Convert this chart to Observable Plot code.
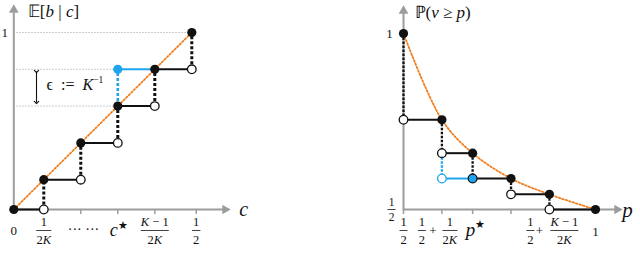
<!DOCTYPE html>
<html><head><meta charset="utf-8">
<script src="https://cdn.jsdelivr.net/npm/d3@7"></script>
<script src="https://cdn.jsdelivr.net/npm/@observablehq/plot@0.6"></script>
<style>
html,body{margin:0;padding:0;background:#fff;width:640px;height:266px;overflow:hidden}
#row{display:flex;width:640px;height:266px}
#row svg{overflow:visible;display:block}
#row svg, #row svg text, #row svg tspan{font-family:"Liberation Serif","Times New Roman",serif !important}
</style></head><body><div id="row"></div>
<script>
// ===== Left panel: E[b | c] (schematic units) =====
const cVals = [0, 0.81, 1.81, 2.81, 3.81, 4.81];   // c at each step
const bVals = [0, 0.81, 1.81, 2.81, 3.81, 4.81];   // E[b|c] at filled points
const cStarIdx = 3;                                 // index of c*
const cTickVals = [0.81, 1.81, 2.81, 3.81, 4.93];   // tick marks on the c axis
const cHalf = 4.93;                                 // position of the 1/2 label

// ===== Right panel: P(v >= p) =====
const pVals = [0.5, 0.6, 0.68, 0.78, 0.88, 1];      // p at each step
const qVals = [1, 0.755, 0.66, 0.588, 0.543, 0.5];  // P(v>=p) at filled points
const pStarIdx = 2;                                 // index of p*
const pTickVals = [0.5, 0.6, 0.68, 0.78, 0.88];

const FONT = '"Liberation Serif","Times New Roman",serif';
const INK = "#111", GRAY = "#9c9c9c", BLUE = "#1ea5ee", ORANGE = "#f07f1f";

const bar = {draw(ctx, size){ const r = Math.sqrt(size/Math.PI); ctx.moveTo(-r,0); ctx.lineTo(r,0); }};
function frac(x, y, num, den, {dx=0, dy=21, fs=12.5, gap=9, hw=5}={}) {
  return [
    Plot.text([num], {x:[x], y:[y], text:d=>d, dx, dy:dy-gap, fontSize:fs}),
    Plot.text([den], {x:[x], y:[y], text:d=>d, dx, dy:dy+gap, fontSize:fs}),
    Plot.dot([0], {x:[x], y:[y], dx, dy, r:hw, symbol:bar, fill:"none", stroke:INK, strokeWidth:0.8})
  ];
}
function seg(x1,y1,x2,y2,o){ return Plot.link([0], {x1:[x1], y1:[y1], x2:[x2], y2:[y2], ...o}); }
function lab(x,y,t,o){ return Plot.text([t], {x:[x], y:[y], text:d=>d, ...o}); }

// ---------- Left ----------
const lxS = d3.scaleLinear([0,4.81],[13.3,191.3]), lyS = d3.scaleLinear([0,4.81],[209,32]);
const LX = px => lxS.invert(px), LY = py => lyS.invert(py);

const lFilled = cVals.map((c,i)=>({c, b:bVals[i]}));
const lOpen = d3.range(1,6).map(i=>({c:cVals[i], b:bVals[i-1]}));
const lFlat = d3.range(5).map(i=>({c1:cVals[i], c2:cVals[i+1], b:bVals[i]}));
const lJump = d3.range(1,6).map(i=>({c:cVals[i], b1:bVals[i-1], b2:bVals[i]}));
const k = cStarIdx;
const lGrid = [{c:cVals[5], b:bVals[5]}, {c:cVals[k], b:bVals[k+1]}, {c:cVals[k], b:bVals[k]}];

const left = Plot.plot({
  width:320, height:266, margin:0,
  x:{domain:[0,4.81], range:[13.3,191.3], axis:null},
  y:{domain:[0,4.81], range:[209,32], axis:null},
  style:{fontFamily:FONT, color:INK, background:"transparent", overflow:"visible"},
  marks:[
    Plot.link(lGrid, {x1:()=>LX(16), x2:"c", y1:"b", y2:"b", stroke:GRAY, strokeWidth:1, strokeDasharray:"1,2"}),
    Plot.line(lFilled, {x:"c", y:"b", stroke:ORANGE, strokeWidth:1.8, strokeDasharray:"1.6,2"}),
    seg(0, LY(210), 0, LY(12), {stroke:GRAY, strokeWidth:2}),
    seg(0, 0, LX(224), 0, {stroke:GRAY, strokeWidth:2}),
    Plot.dot([0], {x:[0], y:[LY(9.4)], symbol:"triangle", r:3.6, fill:GRAY}),
    Plot.dot([0], {x:[LX(224.6)], y:[0], symbol:"triangle", r:3.6, fill:GRAY, rotate:90}),
    Plot.ruleX(cTickVals, {x:d=>d, y1:0, y2:LY(214), stroke:GRAY, strokeWidth:1.5}),
    Plot.link(lJump, {x1:"c", x2:"c", y1:"b1", y2:"b2", stroke:INK, strokeWidth:3, strokeDasharray:"3,2"}),
    seg(cVals[k], bVals[k], cVals[k], bVals[k+1], {stroke:BLUE, strokeWidth:2.6, strokeDasharray:"3,2"}),
    Plot.link(lFlat, {x1:"c1", x2:"c2", y1:"b", y2:"b", stroke:INK, strokeWidth:2}),
    seg(cVals[k], bVals[k+1], cVals[k+1], bVals[k+1], {stroke:BLUE, strokeWidth:2}),
    Plot.dot(lOpen, {x:"c", y:"b", r:4.3, fill:"white", stroke:INK, strokeWidth:1.3}),
    Plot.dot(lFilled, {x:"c", y:"b", r:4.6, fill:INK}),
    Plot.dot([0], {x:[cVals[k]], y:[bVals[k+1]], r:4.6, fill:BLUE}),
    // epsilon annotation
    seg(LX(36), LY(71), LX(36), LY(102), {stroke:INK, strokeWidth:1.1, markerStart:"arrow", markerEnd:"arrow"}),
    lab(LX(46), LY(84), "ϵ  :=  {K}^{−1}", {textAnchor:"start", fontSize:16}),
    // titles
    lab(0, LY(11), "𝔼[{b} | {c}]", {textAnchor:"start", dx:14, fontSize:17}),
    lab(4.81, 0, "c", {dx:52, dy:0, fontSize:20, fontStyle:"italic"}),
    lab(0, bVals[5], "1", {dx:-9, fontSize:13}),
    // tick labels
    lab(0, 0, "0", {dy:21, fontSize:13}),
    ...frac(cVals[1], 0, "1", "2{K}", {hw:7.5}),
    lab(LX(83), 0, "··· ···", {dy:20, fontSize:14}),
    lab(cVals[k], 0, "{c}^{★}", {dx:1, dy:21, fontSize:18}),
    ...frac(cVals[k+1], 0, "{K} − 1", "2{K}", {hw:14}),
    ...frac(cHalf, 0, "1", "2", {hw:4.2})
  ]
});

// ---------- Right ----------
const rxS = d3.scaleLinear([0.5,1],[83,275]), ryS = d3.scaleLinear([0.5,1],[209,33]);
const RX = px => rxS.invert(px), RY = py => ryS.invert(py);
const j = pStarIdx;
const rFilled = pVals.map((p,i)=>({p, q:qVals[i]}));
const rOpen = [0,1,3,4].map(i=>({p:pVals[i], q:qVals[i+1]}));
const rFlat = d3.range(1,6).map(i=>({p1:pVals[i-1], p2:pVals[i], q:qVals[i]}));
const rJump = d3.range(5).map(i=>({p:pVals[i], q1:qVals[i], q2:qVals[i+1]}));

const right = Plot.plot({
  width:320, height:266, margin:0,
  x:{domain:[0.5,1], range:[83,275], axis:null},
  y:{domain:[0.5,1], range:[209,33], axis:null},
  style:{fontFamily:FONT, color:INK, background:"transparent", overflow:"visible"},
  marks:[
    Plot.line(rFilled, {x:"p", y:"q", curve:"catmull-rom", stroke:ORANGE, strokeWidth:1.8, strokeDasharray:"1.6,2"}),
    seg(0.5, RY(210), 0.5, RY(12), {stroke:GRAY, strokeWidth:2}),
    seg(0.5, 0.5, RX(296), 0.5, {stroke:GRAY, strokeWidth:2}),
    Plot.dot([0], {x:[0.5], y:[RY(10.4)], symbol:"triangle", r:3.6, fill:GRAY}),
    Plot.dot([0], {x:[RX(296.6)], y:[0.5], symbol:"triangle", r:3.6, fill:GRAY, rotate:90}),
    Plot.ruleX(pTickVals, {x:d=>d, y1:0.5, y2:RY(214), stroke:GRAY, strokeWidth:1.5}),
    Plot.link(rJump, {x1:"p", x2:"p", y1:"q1", y2:"q2", stroke:INK, strokeWidth:2.3, strokeDasharray:"2.5,1.5"}),
    seg(pVals[j-1], qVals[j], pVals[j-1], qVals[j+1], {stroke:BLUE, strokeWidth:2.3, strokeDasharray:"2.5,1.5"}),
    Plot.link(rFlat, {x1:"p1", x2:"p2", y1:"q", y2:"q", stroke:INK, strokeWidth:2}),
    seg(pVals[j-1], qVals[j+1], pVals[j], qVals[j+1], {stroke:BLUE, strokeWidth:2}),
    Plot.dot(rOpen, {x:"p", y:"q", r:4.3, fill:"white", stroke:INK, strokeWidth:1.3}),
    Plot.dot([0], {x:[pVals[j-1]], y:[qVals[j+1]], r:4.3, fill:"white", stroke:BLUE, strokeWidth:1.3}),
    Plot.dot(rFilled, {x:"p", y:"q", r:4.6, fill:INK}),
    Plot.dot([0], {x:[pVals[j]], y:[qVals[j+1]], r:4.4, fill:BLUE, stroke:INK, strokeWidth:1.2}),
    // titles
    lab(0.5, RY(12), "ℙ({v} ≥ {p})", {textAnchor:"start", dx:11, fontSize:17}),
    lab(1, 0.5, "p", {dx:32, dy:1, fontSize:21, fontStyle:"italic"}),
    lab(0.5, 1, "1", {dx:-14, fontSize:13}),
    ...frac(0.5, 0.5, "1", "2", {dx:-12, dy:0, gap:7.5, fs:11.5, hw:4}),
    // tick labels
    ...frac(0.5, 0.5, "1", "2", {hw:4}),
    ...frac(pVals[1], 0.5, "1", "2", {dx:-20, hw:4}),
    lab(pVals[1], 0.5, "+", {dx:-9, dy:21, fontSize:13}),
    ...frac(pVals[1], 0.5, "1", "2{K}", {dx:8, hw:7.5}),
    lab(pVals[j], 0.5, "{p}^{★}", {dx:3, dy:20, fontSize:19}),
    lab(RX(498), 0.5, "···", {dy:20, fontSize:14}),
    ...frac(pVals[4], 0.5, "1", "2", {dx:-19, hw:4}),
    lab(pVals[4], 0.5, "+", {dx:-10, dy:21, fontSize:13}),
    ...frac(pVals[4], 0.5, "{K} − 1", "2{K}", {dx:15, hw:14}),
    lab(1, 0.5, "1", {dy:22, fontSize:13})
  ]
});

const row = document.getElementById("row");
row.appendChild(left); row.appendChild(right);

// rich text: {x} italic, ^{x} superscript
function richify(root){
  root.querySelectorAll("text").forEach(t=>{
    const s = t.textContent;
    if (!s.includes("{")) return;
    const fs = parseFloat(getComputedStyle(t).fontSize) || 12;
    while (t.firstChild) t.removeChild(t.firstChild);
    const re = /(\^)?\{([^}]*)\}|([^{^]+)/g; let m;
    while ((m = re.exec(s))) {
      const ts = document.createElementNS("http://www.w3.org/2000/svg","tspan");
      if (m[3] !== undefined) ts.textContent = m[3];
      else if (m[1]) { ts.textContent = m[2]; ts.setAttribute("font-size", (fs*0.6).toFixed(1)); ts.setAttribute("dy", (-fs*0.42).toFixed(1)); }
      else { ts.textContent = m[2]; ts.setAttribute("font-style","italic"); }
      t.appendChild(ts);
    }
  });
}
richify(row);
</script></body></html>
